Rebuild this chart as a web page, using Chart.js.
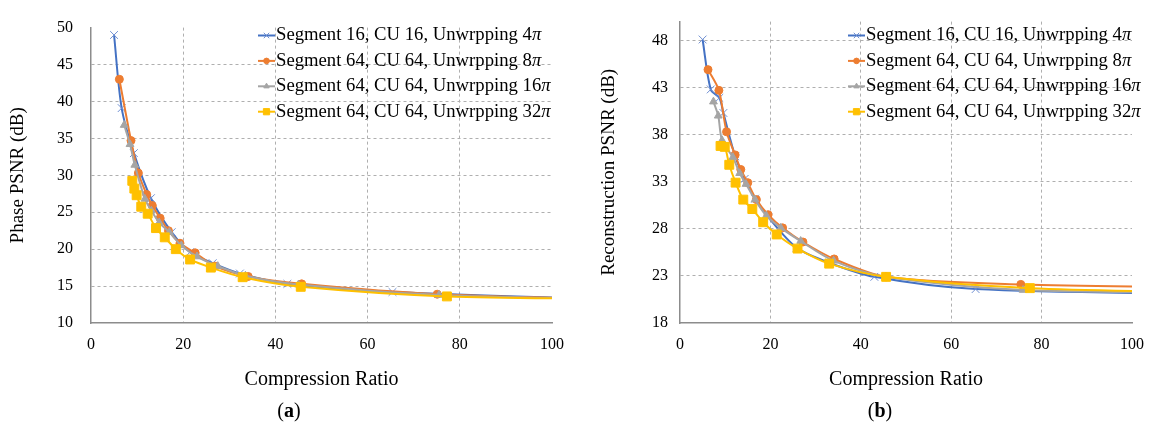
<!DOCTYPE html>
<html>
<head>
<meta charset="utf-8">
<script src="https://cdn.jsdelivr.net/npm/chart.js@4/dist/chart.umd.min.js"></script>
<style>
  html, body { margin: 0; padding: 0; background: #fff; }
  #wrap { position: relative; width: 1156px; height: 431px; font-family: "Liberation Serif", "Times New Roman", serif; }
  .box { position: absolute; top: 0; width: 578px; height: 400px; }
  .cap { position: absolute; top: 399px; font-size: 20px; line-height: 23px; color: #000; transform: translateX(-50%); }
</style>
</head>
<body>
<div id="wrap">
  <div class="box" style="left:0"><canvas id="chartA" width="578" height="400"></canvas></div>
  <div class="box" style="left:578px"><canvas id="chartB" width="578" height="400"></canvas></div>
  <div class="cap" style="left:289px">(<b>a</b>)</div>
  <div class="cap" style="left:880px">(<b>b</b>)</div>
</div>
<script>
// legend labels
const seriesLabels = [
  "Segment 16, CU 16, Unwrpping 4\u03c0",
  "Segment 64, CU 64, Unwrpping 8\u03c0",
  "Segment 64, CU 64, Unwrpping 16\u03c0",
  "Segment 64, CU 64, Unwrpping 32\u03c0"
];

// axis ticks
const xTicks = [0, 20, 40, 60, 80, 100];
const phaseTicks = [10, 15, 20, 25, 30, 35, 40, 45, 50];
const reconTicks = [18, 23, 28, 33, 38, 43, 48];

/* ---- (a) Phase PSNR ---- */
const phase4piX  = [5.0, 6.65, 9.3, 13.0, 17.5, 21.5, 26.4, 32.3, 42.6, 65.4, 125];
const phase4piY  = [49.0, 39.1, 33.0, 26.9, 22.3, 19.6, 18.1, 16.7, 15.3, 14.2, 13.0];
const phase8piX  = [6.15, 8.68, 10.27, 12.08, 13.3, 15.0, 16.8, 19.3, 22.6, 26.9, 34.1, 45.7, 75.1, 125];
const phase8piY  = [43.0, 34.7, 30.3, 27.4, 25.9, 24.2, 22.5, 20.8, 19.5, 17.7, 16.3, 15.3, 13.9, 13.05];
const phase16piX = [7.2, 8.46, 9.5, 11.7, 13.1, 14.8, 17.0, 19.6, 23.0, 27.5, 33.5, 45.0, 75.5, 125];
const phase16piY = [36.8, 34.2, 31.4, 26.8, 25.2, 23.6, 22.3, 20.5, 19.0, 17.7, 16.4, 15.2, 13.8, 13.1];
const phase32piX = [8.96, 9.4, 9.9, 10.9, 12.3, 14.1, 16.0, 18.4, 21.5, 26.0, 32.9, 45.5, 77.2, 125];
const phase32piY = [29.25, 28.2, 27.3, 25.75, 24.8, 22.85, 21.6, 20.0, 18.6, 17.5, 16.2, 14.9, 13.6, 13.2];

/* ---- (b) Reconstruction PSNR ---- */
const recon4piX  = [5.0, 6.8, 8.7, 9.6, 12.2, 14.3, 16.6, 19.6, 25.8, 33.0, 43.0, 65.4, 125];
const recon4piY  = [48.1, 42.8, 41.9, 40.3, 35.7, 33.3, 31.2, 29.2, 26.0, 24.4, 22.9, 21.6, 21.0];
const recon8piX  = [6.2, 8.6, 10.3, 12.2, 13.45, 15.0, 16.9, 19.5, 22.7, 27.2, 34.1, 45.6, 75.4, 125];
const recon8piY  = [44.9, 42.7, 38.3, 35.85, 34.3, 32.9, 31.1, 29.5, 28.1, 26.6, 24.8, 22.9, 22.1, 21.75];
const recon16piX = [7.4, 8.46, 9.3, 11.7, 13.2, 14.6, 16.6, 19.1, 22.3, 26.7, 34.0, 45.5, 75.9, 125];
const recon16piY = [41.5, 40.0, 37.4, 35.6, 33.9, 32.75, 31.1, 29.4, 28.1, 26.7, 24.6, 22.9, 21.5, 21.2];
const recon32piX = [8.97, 9.9, 10.9, 12.3, 14.0, 16.0, 18.4, 21.4, 26.0, 33.0, 45.6, 77.4, 125];
const recon32piY = [36.8, 36.7, 34.8, 32.9, 31.1, 30.1, 28.7, 27.4, 25.9, 24.3, 22.9, 21.7, 21.2];

const FONT = '"Liberation Serif", "Times New Roman", serif';
Chart.defaults.font.family = FONT;
Chart.defaults.color = "#000";

const styles = [
  { line: "#4472C4", point: "#6F8FD2", shape: "crossRot", r: 5.5 },
  { line: "#ED7D31", point: "#ED7D31", shape: "circle", r: 4 },
  { line: "#A5A5A5", point: "#A5A5A5", shape: "triangle", r: 4.5 },
  { line: "#FFC000", point: "#FFC000", shape: "rect", r: 6.3 }
];

function toPoints(xs, ys) {
  return xs.map((x, i) => ({ x: x, y: ys[i] }));
}

function makeDatasets(pairs) {
  return pairs.map((p, i) => ({
    label: seriesLabels[i],
    data: toPoints(p[0], p[1]),
    borderColor: styles[i].line,
    backgroundColor: styles[i].point,
    pointBorderColor: styles[i].point,
    pointBackgroundColor: styles[i].point,
    pointStyle: styles[i].shape,
    pointRadius: styles[i].r,
    pointBorderWidth: 1,
    borderWidth: 2,
    tension: 0.3,
    order: 3 - i
  }));
}

// legend drawn inside the plot area
const insideLegend = {
  id: "insideLegend",
  afterDatasetsDraw(chart, args, opts) {
    const ctx = chart.ctx;
    ctx.save();
    chart.data.datasets.forEach((ds, i) => {
      const y = opts.y + i * opts.gap;
      ctx.strokeStyle = ds.borderColor;
      ctx.lineWidth = 2;
      ctx.beginPath();
      ctx.moveTo(opts.x, y);
      ctx.lineTo(opts.x + 17, y);
      ctx.stroke();
      ctx.fillStyle = ds.pointBackgroundColor;
      ctx.strokeStyle = ds.pointBorderColor;
      ctx.lineWidth = 1;
      Chart.helpers.drawPoint(ctx, { pointStyle: ds.pointStyle, radius: ds.pointRadius * 0.7, rotation: 0, borderWidth: 1 }, opts.x + 8.5, y);

      const txt = ds.label;
      const main = txt.slice(0, -1);
      ctx.fillStyle = "#000";
      ctx.textBaseline = "middle";
      ctx.textAlign = "left";
      ctx.font = opts.size + "px " + FONT;
      ctx.fillText(main, opts.x + 18, y);
      const w = ctx.measureText(main).width;
      ctx.font = "italic " + opts.size + "px " + FONT;
      ctx.fillText(txt.slice(-1), opts.x + 18 + w, y);
    });
    ctx.restore();
  }
};

function makeChart(id, pairs, yTicksArr, yMin, yMax, yTitle, cfg) {
  new Chart(document.getElementById(id), {
    type: "line",
    data: { datasets: makeDatasets(pairs) },
    plugins: [insideLegend],
    options: {
      responsive: false,
      animation: false,
      layout: { padding: { top: 19, right: cfg.right, left: 0, bottom: 0 } },
      plugins: {
        legend: { display: false },
        tooltip: { enabled: false },
        insideLegend: { x: cfg.legX, y: 35.5, gap: 25.4, size: 18.7 }
      },
      scales: {
        x: {
          type: "linear",
          min: 0, max: 100,
          afterBuildTicks: s => { s.ticks = xTicks.map(v => ({ value: v })); },
          afterFit: s => { s.height = 77; },
          ticks: { font: { size: 16 }, padding: 12, color: "#000" },
          grid: {
            drawTicks: false,
            borderDash: [3, 3],
            color: c => (c.tick && (c.tick.value === 0 || c.tick.value === 100)) ? "rgba(0,0,0,0)" : "#AFAFAF"
          },
          border: { display: true, color: "#8C8C8C", width: 1.5, dash: [3, 3] },
          title: { display: true, text: "Compression Ratio", font: { size: 20 }, color: "#000", padding: { top: 4, bottom: 8 } }
        },
        y: {
          min: yMin, max: yMax,
          afterBuildTicks: s => { s.ticks = yTicksArr.map(v => ({ value: v })); },
          afterFit: s => { s.width = cfg.yWidth; },
          ticks: { font: { size: 16 }, padding: cfg.tickPad, color: "#000" },
          grid: {
            drawTicks: false,
            borderDash: [3, 3],
            color: c => (c.tick && (c.tick.value === yMin || c.tick.value === yMax)) ? "rgba(0,0,0,0)" : "#AFAFAF"
          },
          border: { display: true, color: "#8C8C8C", width: 1.5, dash: [3, 3] },
          title: { display: true, text: yTitle, font: { size: 19 }, color: "#000", padding: { top: cfg.titlePad, bottom: 0 } }
        }
      }
    }
  });
}

makeChart("chartA",
  [[phase4piX, phase4piY], [phase8piX, phase8piY], [phase16piX, phase16piY], [phase32piX, phase32piY]],
  phaseTicks, 10, 50, "Phase PSNR (dB)",
  { right: 26, yWidth: 91, tickPad: 18, titlePad: 7, legX: 258 });

makeChart("chartB",
  [[recon4piX, recon4piY], [recon8piX, recon8piY], [recon16piX, recon16piY], [recon32piX, recon32piY]],
  reconTicks, 18, 50, "Reconstruction PSNR (dB)",
  { right: 15, yWidth: 102, tickPad: 12, titlePad: 20, legX: 270 });
</script>
</body>
</html>
